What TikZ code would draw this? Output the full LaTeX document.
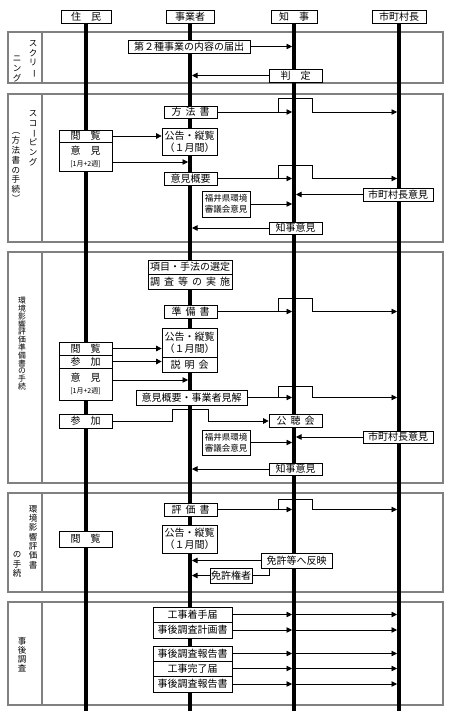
\documentclass[tikz,border=0pt]{standalone}
\usepackage{fontspec}
\setmainfont{Noto Sans CJK JP}
\usetikzlibrary{arrows.meta,calc}
\newcommand\tsp{\hspace{4pt}}
\newcommand\vbar{\rotatebox[origin=c]{-90}{ー}}
\newcommand\vlp{\rotatebox[origin=c]{-90}{（}}
\newcommand\vrp{\rotatebox[origin=c]{-90}{）}}
\newcommand\vfs[2]{\fontsize{#1}{#2}\selectfont\lineskiplimit=-5pt\relax}
% line that hops over the governor's lane to the mayors' lane
\newcommand\hop[2]{\draw[arrl] ($(#1.east -| chiji)+(-16,0)$) -- ++(0,-#2) -- ++(34,0) -- ++(0,#2) -- (#1.east -| shicho);}

\begin{document}
\begin{tikzpicture}[x=1pt, y=-1pt, line width=0.7pt, font=\vfs{10}{12},
  box/.style 2 args={draw, fill=white, inner sep=0pt, align=center, minimum width=#1pt, minimum height=#2pt},
  arr/.style={-{Triangle[length=5.5pt,width=5.5pt]}},
  arrl/.style={arr, shorten >=2pt},
  lane/.style={line width=4pt},
  frame/.style={draw=black!85, double=black!50, double distance=1.2pt, line width=0.6pt},
  vlab/.style={align=center, inner sep=0pt, font=\vfs{8.5}{9.8}},
  small/.style={font=\vfs{8.5}{11}}]
  \useasboundingbox (0,0) rectangle (450,711);

  % sections
  \foreach \t/\b in {32/83, 94/242, 252/483, 493/592, 602/705} {
    \draw[frame] (8,\t) rectangle (443,\b);
    \draw[frame] (42,\t) -- (42,\b);
  }

  % lanes
  \node[box={50}{13}] (jumin) at (86,16.5) {住　民};
  \node[box={48}{13}] (jigyo) at (190,16.5) {事業者};
  \node[box={46}{13}] (chiji) at (294,16.5) {知　事};
  \node[box={54}{13}] (shicho) at (399,16.5) {市町村長};
  \foreach \n in {jumin,jigyo,chiji,shicho}
    \draw[lane] (\n.south) -- (\n.south |- 0,711);

  % section labels
  \node[vlab, anchor=north] (v1a) at (33,40) {ス\\ク\\リ\\\vbar};
  \node[vlab, anchor=south] (v1b) at (17,82) {ニ\\ン\\グ};
  \node[vlab, anchor=north] (v2a) at (33,110) {ス\\コ\\\vbar\\ピ\\ン\\グ};
  \node[vlab, anchor=north] (v2b) at (16,126) {\vlp\\方\\法\\書\\の\\手\\続\\\vrp};
  \node[vlab, anchor=north, font=\vfs{7.8}{7.8}] (v3) at (22,297) {環\\境\\影\\響\\評\\価\\準\\備\\書\\の\\手\\続};
  \node[vlab, anchor=north, font=\vfs{8.5}{9.3}] (v4a) at (33,505) {環\\境\\影\\響\\評\\価\\書};
  \node[vlab, anchor=south] (v4b) at (17,578) {の\\手\\続};
  \node[vlab, anchor=north, font=\vfs{8.5}{9}] (v5) at (22,637) {事\\後\\調\\査};

  % screening
  \node[box={122}{13}] (todoke) at (189,46.5) {第２種事業の内容の届出};
  \node[box={53}{13}] (hantei) at (295.5,75.5) {判　定};

  % scoping
  \node[box={53}{12}] (houhou) at (190.5,112) {方\tsp 法\tsp 書};
  \node[box={55}{27}] (koukoku1) at (189.5,141.5) {公告・縦覧\\（１月間）};
  \node[box={53}{12}] (etsuran1) at (85.5,136) {閲　覧};
  \node[box={53}{29}] (iken1) at (85.5,156.5) {意　見\\{\vfs{7}{8}[1月+2週]}};
  \node[box={53}{13}] (gaiyou1) at (190.5,178.5) {意見概要};
  \node[box={70}{13}] (shichou1) at (398,194.5) {市町村長意見};
  \node[box={48}{26}, small] (shingi1) at (226,204) {福井県環境\\審議会意見};
  \node[box={53}{12}] (chiji1) at (295.5,228) {知事意見};

  % preparation document
  \node[box={84}{14}] (koumoku) at (190,267) {項目・手法の選定};
  \node[box={84}{15}] (chousa) at (190,281.5) {調\tsp 査\tsp 等\tsp の\tsp 実\tsp 施};
  \node[box={53}{13}] (junbi) at (190.5,311.5) {準\tsp 備\tsp 書};
  \node[box={55}{29}] (koukoku2) at (189.5,342.5) {公告・縦覧\\（１月間）};
  \node[box={55}{15}] (setsumei) at (189.5,364.5) {説\tsp 明\tsp 会};
  \node[box={53}{13}] (etsuran2) at (85.5,348.5) {閲　覧};
  \node[box={53}{13}] (sanka1) at (85.5,361.5) {参　加};
  \node[box={53}{32}] (iken2) at (85.5,384) {意　見\\{\vfs{7}{8}[1月+2週]}};
  \node[box={111}{15}] (gaiyou2) at (191.5,397.5) {意見概要・事業者見解};
  \node[box={53}{14}] (sanka2) at (85.5,421) {参　加};
  \node[box={53}{13}] (kouchou) at (295.5,421) {公\tsp 聴\tsp 会};
  \node[box={48}{25}, small] (shingi2) at (226,442.5) {福井県環境\\審議会意見};
  \node[box={70}{12}] (shichou2) at (398,437) {市町村長意見};
  \node[box={53}{12}] (chiji2) at (295.5,469) {知事意見};

  % assessment document
  \node[box={53}{13}] (hyouka) at (190.5,509.5) {評\tsp 価\tsp 書};
  \node[box={55}{28}] (koukoku3) at (189.5,539) {公告・縦覧\\（１月間）};
  \node[box={53}{16}] (etsuran3) at (85.5,539) {閲　覧};
  \node[box={71}{15}] (hanei) at (296.5,560.5) {免許等へ反映};
  \node[box={42}{15}] (kyoka) at (231,575.5) {免許権者};

  % follow-up survey
  \node[box={79}{15}] (chakushu) at (192.5,614.5) {工事着手届};
  \node[box={79}{16}] (keikaku) at (192.5,630) {事後調査計画書};
  \node[box={79}{15}] (houkoku1) at (192.5,653.5) {事後調査報告書};
  \node[box={79}{15}] (kanryo) at (192.5,668.5) {工事完了届};
  \node[box={79}{16}] (houkoku2) at (192.5,684) {事後調査報告書};

  % connectors
  \draw[arrl] (todoke.east) -- (todoke.east -| chiji);
  \draw[arrl] (hantei.west) -- (hantei.west -| jigyo);

  \draw[arrl] (houhou.east) -- (houhou.east -| chiji);
  \hop{houhou}{14}
  \draw[arr] (etsuran1.east) -- (etsuran1.east -| koukoku1.west);
  \coordinate (ik1) at ([yshift=-5.5pt]iken1.east);
  \draw[arrl] (ik1) -- (ik1 -| jigyo);
  \draw[arrl] (gaiyou1.east) -- (gaiyou1.east -| chiji);
  \hop{gaiyou1}{13}
  \draw[arrl] (shichou1.west) -- (shichou1.west -| chiji);
  \draw[arrl] (shingi1.east) -- (shingi1.east -| chiji);
  \draw[arrl] (chiji1.west) -- (chiji1.west -| jigyo);

  \draw[arrl] (junbi.east) -- (junbi.east -| chiji);
  \hop{junbi}{13}
  \draw[arr] (etsuran2.east) -- (etsuran2.east -| koukoku2.west);
  \draw[arr] (sanka1.east) -- (sanka1.east -| setsumei.west);
  \coordinate (ik2) at ([yshift=4pt]iken2.east);
  \draw[arrl] (ik2) -- (ik2 -| jigyo);
  \draw[arrl] (gaiyou2.east) -- (gaiyou2.east -| chiji);
  \hop{gaiyou2}{11}
  \draw[arr] (sanka2.east) -- ++(60,0) -- ++(0,-12) -- ++(36,0) -- ++(0,12) -- (kouchou.west);
  \draw[arrl] (shingi2.east) -- (shingi2.east -| chiji);
  \draw[arrl] (shichou2.west) -- (shichou2.west -| chiji);
  \draw[arrl] (chiji2.west) -- (chiji2.west -| jigyo);

  \draw[arrl] (hyouka.east) -- (hyouka.east -| chiji);
  \hop{hyouka}{10}
  \draw[arrl] (hanei.west) -- (hanei.west -| jigyo);
  \draw ([xshift=-27.5pt]hanei.south) |- (kyoka.east);
  \draw[arrl] (kyoka.west) -- (kyoka.west -| jigyo);

  \foreach \b in {chakushu,keikaku,houkoku1,kanryo,houkoku2} {
    \draw[arrl] (\b.east) -- (\b.east -| chiji);
    \draw[arrl] (\b.east -| chiji) -- (\b.east -| shicho);
  }
\end{tikzpicture}
\end{document}
